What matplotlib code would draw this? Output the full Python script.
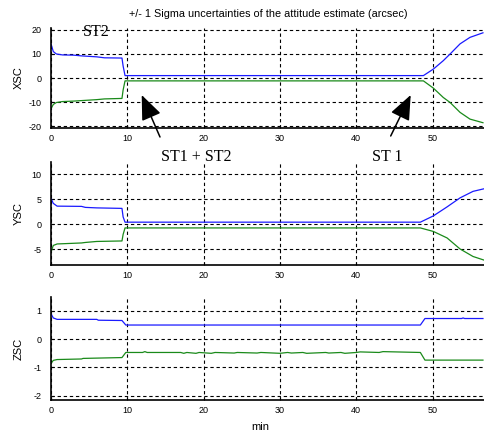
import matplotlib
matplotlib.use("Agg")
import matplotlib.pyplot as plt

plt.rcParams['font.family'] = ['Liberation Sans', 'DejaVu Sans']
plt.rcParams['axes.unicode_minus'] = False

# time axis (min) and +/- 1 sigma curves
t_x = [0, 0.3, 0.7, 1.5, 3, 4, 6, 7, 9.3, 9.45, 9.7, 48.5, 48.8, 50.1, 51.4, 52.3, 53.6, 54.9, 56.6]
xsc_up = [14.2, 11.0, 10.0, 9.6, 9.5, 9.2, 8.8, 8.4, 8.3, 5.0, 1.0, 1.0, 1.0, 3.7, 7.2, 10.0, 14.2, 16.9, 18.8]
xsc_lo = [-12.8, -11.0, -10.2, -9.8, -9.6, -9.4, -9.0, -8.7, -8.5, -5.0, -1.2, -1.2, -1.2, -4.2, -8.1, -10.2, -14.3, -17.1, -18.6]

t_y = [0, 0.3, 0.8, 4, 4.5, 6, 9.3, 9.45, 9.7, 48.4, 50.1, 51.9, 53.6, 55.3, 56.7]
ysc_up = [5.2, 4.2, 3.65, 3.6, 3.4, 3.3, 3.2, 1.5, 0.45, 0.45, 1.7, 3.5, 5.3, 6.6, 7.1]
ysc_lo = [-5.5, -4.2, -3.9, -3.7, -3.6, -3.4, -3.3, -2.0, -0.7, -0.7, -1.4, -2.7, -4.9, -6.4, -7.1]

t_z_up = [0, 0.3, 0.8, 6, 6.2, 9.3, 9.8, 48.4, 49.0, 53.8, 54.0, 54.2, 56.6]
zsc_up = [0.9, 0.75, 0.7, 0.7, 0.67, 0.66, 0.5, 0.5, 0.73, 0.73, 0.75, 0.73, 0.73]
t_z_lo = [0, 0.3, 0.8, 4, 4.2, 9.3, 9.8, 12, 12.3, 12.6, 17, 17.4, 17.8, 19, 19.4, 21, 21.5, 24, 24.4,
          27, 27.5, 30, 31, 31.5, 33, 33.5, 36, 36.4, 38, 38.5, 40, 40.5, 43, 43.5, 48.4, 49.0, 56.6]
zsc_lo = [-0.86, -0.75, -0.72, -0.70, -0.68, -0.65, -0.47, -0.47, -0.44, -0.47, -0.47, -0.5, -0.47, -0.5, -0.47,
          -0.5, -0.47, -0.49, -0.47, -0.49, -0.47, -0.5, -0.47, -0.49, -0.47, -0.5, -0.47, -0.49, -0.47, -0.5,
          -0.47, -0.45, -0.47, -0.44, -0.47, -0.74, -0.74]

x_ticks = [0, 10, 20, 30, 40, 50]
panels = [
    ("XSC", t_x, xsc_up, t_x, xsc_lo, [-20, -10, 0, 10, 20], (-20.8, 20.8)),
    ("YSC", t_y, ysc_up, t_y, ysc_lo, [-5, 0, 5, 10], (-8.1, 12.4)),
    ("ZSC", t_z_up, zsc_up, t_z_lo, zsc_lo, [-2, -1, 0, 1], (-2.15, 1.48)),
]

W, H = 485, 436
fig = plt.figure(figsize=(W / 100, H / 100), dpi=100)

# axes boxes in pixels: (top, bottom)
boxes = [(28, 128), (162.3, 265), (297.3, 400)]
axes = []
for (name, tu, up, tl, lo, yt, ylim), (top, bot) in zip(panels, boxes):
    ax = fig.add_axes([51 / W, 1 - bot / H, 435 / W, (bot - top) / H])
    ax.plot(tu, up, color='#1a1aff', lw=0.9)
    ax.plot(tl, lo, color='#1a8a1a', lw=0.9)
    ax.set_xlim(0, 57)
    ax.set_ylim(*ylim)
    ax.set_xticks(x_ticks)
    ax.set_yticks(yt)
    ax.grid(True, color='black', linestyle=(0, (3, 2.5)), lw=0.8)
    ax.spines['top'].set_visible(False)
    ax.spines['right'].set_visible(False)
    ax.spines['left'].set_linewidth(1.2)
    ax.spines['bottom'].set_linewidth(1.2)
    ax.tick_params(direction='in', length=2, labelsize=6.5, pad=4)
    ax.tick_params(axis='y', pad=7)
    ax.set_ylabel(name, fontsize=8)
    ax.yaxis.set_label_coords(-27 / 435, 0.5)
    axes.append(ax)

axes[0].set_title("+/- 1 Sigma uncertainties of the attitude estimate (arcsec)", fontsize=7.8, pad=8)
fig.text(260 / W, 1 - 427 / H, "min", fontsize=8, ha='center', va='center')

serif = ['Liberation Serif', 'DejaVu Serif']
fig.text(96 / W, 1 - 31.5 / H, "ST2", fontsize=11.5, family=serif, ha='center', va='center')
fig.text(196 / W, 1 - 157 / H, "ST1 + ST2", fontsize=11.5, family=serif, ha='center', va='center')
fig.text(387 / W, 1 - 157 / H, "ST 1", fontsize=11.5, family=serif, ha='center', va='center')

arrow = dict(arrowstyle='-|>,head_length=0.85,head_width=0.35', mutation_scale=18,
             color='black', lw=1.1, shrinkA=0, shrinkB=0)
axes[0].annotate('', xy=(141.7 / W, 1 - 95 / H), xytext=(160 / W, 1 - 137 / H),
                 xycoords='figure fraction', textcoords='figure fraction',
                 arrowprops=arrow, annotation_clip=False)
axes[0].annotate('', xy=(410.7 / W, 1 - 95 / H), xytext=(390.7 / W, 1 - 136 / H),
                 xycoords='figure fraction', textcoords='figure fraction',
                 arrowprops=arrow, annotation_clip=False)

fig.savefig("out.png", dpi=100)
